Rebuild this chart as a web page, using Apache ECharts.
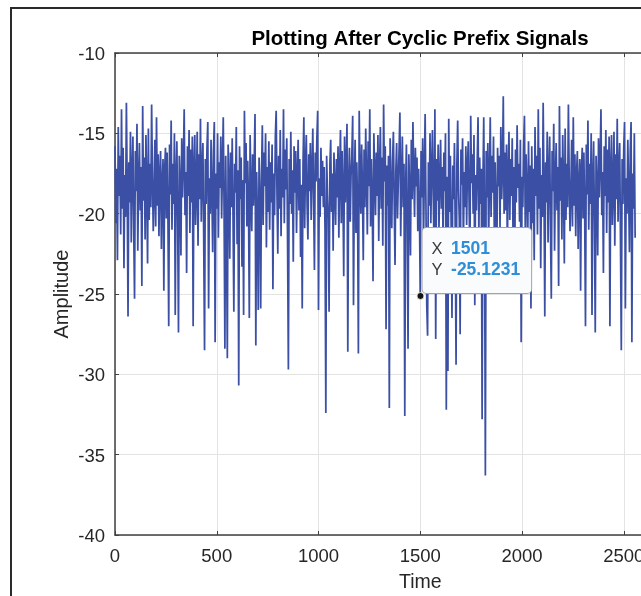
<!DOCTYPE html>
<html>
<head>
<meta charset="utf-8">
<title>Plotting After Cyclic Prefix Signals</title>
<script src="https://cdn.jsdelivr.net/npm/echarts@6/dist/echarts.min.js"></script>
<style>
  html, body { margin: 0; padding: 0; background: #fff; overflow: hidden; }
  #chart { width: 780px; height: 596px; }
</style>
</head>
<body>
<div id="chart"></div>
<script>
// one sample is kept every `sampleStep` samples of the 2560-sample signal
const sampleStep = 4
// amplitude; the last 128 entries repeat the first 128 (cyclic prefix)
const amplitude = [
  -15.8, -20.6, -17.2, -22.9, -14.6, -18.9, -16.4, -21.3, -13.5, -19.7, -15.9, -23.4, -17.6, -20.2, -13.1, -18.4,
  -26.4, -16.8, -19.3, -14.9, -21.8, -17.4, -15.2, -20.9, -25.3, -16.1, -18.6, -14.4, -22.3, -17.9, -15.6, -19.8,
  -17.1, -24.5, -13.3, -19.2, -16.5, -21.6, -15.1, -18.3, -23.1, -14.7, -20.4, -16.9, -19.6, -13.2, -17.8, -21.1,
  -18.7, -15.4, -20.8, -14.0, -19.5, -16.3, -21.4, -17.6, -16.1, -22.2, -18.1, -16.6, -24.8, -17.3, -15.9, -20.3,
  -16.2, -19.9, -27.0, -15.7, -18.8, -14.2, -21.0, -16.9, -19.4, -15.0, -26.3, -17.7, -15.5, -20.6, -27.4, -16.4,
  -18.2, -22.6, -15.3, -19.0, -16.7, -13.5, -20.1, -17.4, -23.7, -15.8, -18.9, -14.8, -21.2, -16.0, -19.3, -15.2,
  -27.0, -17.0, -15.1, -20.7, -18.5, -14.9, -22.0, -16.3, -19.1, -14.1, -20.5, -17.2, -15.6, -21.7, -28.5, -16.6,
  -19.4, -15.9, -14.3, -25.9, -17.8, -20.0, -15.4, -18.6, -22.4, -16.1, -14.3, -28.0, -17.5, -19.7, -15.0, -21.5,
  -16.8, -18.4, -15.2, -20.3, -17.1, -14.0, -19.8, -28.4, -16.4, -21.3, -29.0, -15.7, -18.0, -22.8, -16.2, -19.6,
  -15.3, -20.2, -26.1, -16.9, -18.7, -14.6, -21.9, -17.3, -30.7, -15.8, -19.1, -16.5, -23.3, -17.9, -26.3, -13.6,
  -18.1, -15.6, -20.8, -16.7, -19.2, -26.5, -15.1, -18.9, -21.1, -16.3, -19.5, -17.0, -13.8, -28.2, -17.4, -20.4,
  -26.0, -16.5, -19.0, -25.9, -17.6, -14.5, -20.7, -16.2, -18.3, -15.0, -22.1, -17.1, -19.9, -15.5, -21.0, -16.8,
  -19.3, -15.7, -24.7, -17.5, -20.1, -15.2, -13.6, -18.8, -22.5, -16.4, -19.7, -14.8, -21.4, -17.2, -19.0, -13.5,
  -20.6, -16.0, -18.5, -15.3, -21.8, -29.7, -16.6, -19.4, -14.9, -20.0, -17.3, -23.0, -15.8, -18.7, -16.1, -21.2,
  -17.7, -15.4, -19.8, -16.6, -22.7, -18.2, -25.9, -16.9, -14.0, -20.9, -17.0, -15.1, -19.5, -21.6, -16.3, -18.6,
  -15.6, -20.4, -17.4, -14.7, -19.1, -23.5, -16.2, -18.0, -15.3, -13.6, -26.0, -17.8, -20.2, -15.9, -18.9, -16.7,
  -19.6, -17.1, -21.0, -32.4, -16.4, -18.8, -20.3, -26.1, -16.9, -15.4, -19.9, -17.5, -22.3, -16.2, -18.4, -20.7,
  -16.6, -19.0, -15.8, -21.5, -17.3, -14.8, -20.6, -16.1, -18.7, -23.9, -15.2, -19.3, -17.0, -14.4, -28.6, -18.1,
  -15.9, -20.5, -17.6, -16.3, -13.9, -25.7, -18.2, -15.4, -21.2, -16.8, -19.4, -28.7, -13.6, -17.7, -20.0, -15.7,
  -18.6, -22.9, -16.0, -19.6, -14.7, -17.9, -21.3, -15.5, -18.3, -13.5, -20.8, -16.6, -19.2, -24.2, -15.0, -17.4,
  -20.1, -16.2, -18.9, -15.1, -21.7, -17.2, -14.6, -19.7, -16.5, -22.0, -13.2, -18.0, -15.8, -27.2, -17.0, -19.5,
  -16.4, -32.1, -15.3, -18.5, -20.9, -16.7, -14.9, -19.3, -23.2, -17.4, -15.6, -20.3, -18.1, -16.0, -13.7, -21.4,
  -17.8, -15.2, -19.6, -16.9, -32.6, -18.4, -15.7, -20.5, -28.4, -16.3, -18.8, -22.6, -15.4, -19.1, -14.3, -17.6,
  -20.2, -15.9, -18.3, -16.5, -21.1, -17.2, -19.8, -25.1231, -16.1, -19.0, -15.3, -21.9, -17.5, -13.8, -19.4, -25.7,
  -27.6, -16.8, -19.5, -15.0, -20.6, -17.3, -14.8, -18.9, -22.4, -13.5, -27.8, -16.6, -19.2, -15.7, -21.0, -17.9,
  -15.4, -19.7, -17.1, -21.5, -16.2, -18.6, -15.0, -32.2, -17.7, -29.8, -14.1, -19.9, -16.4, -20.8, -26.5, -17.0,
  -19.1, -15.6, -21.2, -29.4, -16.9, -14.2, -18.5, -20.4, -27.5, -16.0, -18.2, -15.3, -22.1, -17.4, -19.6, -15.8,
  -20.7, -17.0, -15.5, -19.3, -22.8, -13.9, -18.1, -16.3, -20.0, -15.1, -25.7, -17.6, -19.8, -16.7, -14.0, -21.3,
  -16.5, -19.4, -17.2, -32.8, -18.0, -14.0, -20.6, -36.3, -16.1, -19.0, -15.6, -21.8, -17.8, -14.0, -20.2, -16.4,
  -18.7, -15.2, -21.4, -16.8, -19.5, -23.6, -15.9, -18.3, -16.4, -20.9, -14.6, -19.1, -17.3, -12.7, -20.0, -16.2,
  -19.8, -15.7, -22.3, -17.5, -14.9, -20.4, -16.6, -18.9, -15.3, -21.6, -17.1, -24.0, -16.0, -19.3, -14.5, -18.4,
  -16.9, -20.5, -15.4, -28.0, -17.7, -19.6, -15.8, -13.9, -21.0, -16.3, -18.6, -22.2, -15.5, -19.9, -17.0, -25.9,
  // cyclic prefix copy
  -15.8, -20.6, -17.2, -22.9, -14.6, -18.9, -16.4, -21.3, -13.5, -19.7, -15.9, -23.4, -17.6, -20.2, -13.1, -18.4,
  -26.4, -16.8, -19.3, -14.9, -21.8, -17.4, -15.2, -20.9, -25.3, -16.1, -18.6, -14.4, -22.3, -17.9, -15.6, -19.8,
  -17.1, -24.5, -13.3, -19.2, -16.5, -21.6, -15.1, -18.3, -23.1, -14.7, -20.4, -16.9, -19.6, -13.2, -17.8, -21.1,
  -18.7, -15.4, -20.8, -14.0, -19.5, -16.3, -21.4, -17.6, -16.1, -22.2, -18.1, -16.6, -24.8, -17.3, -15.9, -20.3,
  -16.2, -19.9, -27.0, -15.7, -18.8, -14.2, -21.0, -16.9, -19.4, -15.0, -26.3, -17.7, -15.5, -20.6, -27.4, -16.4,
  -18.2, -22.6, -15.3, -19.0, -16.7, -13.5, -20.1, -17.4, -23.7, -15.8, -18.9, -14.8, -21.2, -16.0, -19.3, -15.2,
  -27.0, -17.0, -15.1, -20.7, -18.5, -14.9, -22.0, -16.3, -19.1, -14.1, -20.5, -17.2, -15.6, -21.7, -28.5, -16.6,
  -19.4, -15.9, -14.3, -25.9, -17.8, -20.0, -15.4, -18.6, -22.4, -16.1, -14.3, -28.0, -17.5, -19.7, -15.0, -21.5
]

// data tip shown on the figure
const tipTime = 1501
const tipValue = -25.1231

const xTicks = { min: 0, max: 3000, interval: 500 }
const yTicks = { min: -40, max: -10, interval: 5 }

const font = '"Liberation Sans", Arial, Helvetica, sans-serif'
const axisColor = '#404040'
const gridColor = '#e3e3e3'

const chart = echarts.init(document.getElementById('chart'))

const seriesData = amplitude.map((v, i) => [i * sampleStep, v])

chart.setOption({
  animation: false,
  textStyle: { fontFamily: font },
  title: {
    text: 'Plotting After Cyclic Prefix Signals',
    left: 415,
    textAlign: 'center',
    top: 24,
    textStyle: { fontSize: 20.5, fontWeight: 'bold', color: '#000', fontFamily: font }
  },
  graphic: [{
    type: 'rect',
    shape: { x: 11, y: 8, width: 900, height: 800 },
    style: { fill: 'none', stroke: '#2a2a2a', lineWidth: 2 },
    silent: true
  }],
  grid: { left: 115, top: 53, width: 610.5, height: 482, outerBoundsMode: 'none', containLabel: false },
  xAxis: [{
    type: 'value',
    ...xTicks,
    name: 'Time',
    nameLocation: 'middle',
    nameGap: 38,
    nameTextStyle: { fontSize: 19.5, color: '#262626', fontFamily: font },
    axisLine: { show: true, onZero: false, lineStyle: { color: axisColor, width: 1.5 } },
    axisTick: { show: true, inside: true, length: 4, lineStyle: { color: axisColor } },
    axisLabel: { fontSize: 18.5, color: '#262626', margin: 12, fontFamily: font, formatter: (v) => String(v) },
    splitLine: { show: true, lineStyle: { color: gridColor, width: 1 } }
  }, {
    type: 'value',
    ...xTicks,
    position: 'top',
    axisLine: { show: true, onZero: false, lineStyle: { color: axisColor, width: 1.5 } },
    axisTick: { show: true, inside: true, length: 4, lineStyle: { color: axisColor } },
    axisLabel: { show: false },
    splitLine: { show: false }
  }],
  yAxis: {
    type: 'value',
    ...yTicks,
    name: 'Amplitude',
    nameLocation: 'middle',
    nameGap: 43,
    nameMoveOverlap: false,
    nameRotate: 90,
    nameTextStyle: { fontSize: 20, color: '#262626', fontFamily: font },
    axisLine: { show: true, onZero: false, lineStyle: { color: axisColor, width: 1.5 } },
    axisTick: { show: true, inside: true, length: 4, lineStyle: { color: axisColor } },
    axisLabel: { fontSize: 18.5, color: '#262626', margin: 10, fontFamily: font, verticalAlign: 'top', lineHeight: 4 },
    splitLine: { show: true, lineStyle: { color: gridColor, width: 1 } }
  },
  series: [{
    type: 'line',
    data: seriesData,
    showSymbol: false,
    sampling: null,
    lineStyle: { color: '#3b50a5', width: 1.75 },
    markPoint: {
      symbol: 'circle',
      symbolSize: 7,
      itemStyle: { color: '#151515', borderColor: '#fffbe0', borderWidth: 0.8 },
      label: {
        show: true,
        position: [6, -64],
        align: 'left',
        verticalAlign: 'top',
        backgroundColor: '#f9fbfd',
        borderColor: '#a3a3a3',
        borderWidth: 1,
        borderRadius: 4,
        padding: [11, 11, 12, 9],
        lineHeight: 21,
        formatter: () => `{k|X}{v|${tipTime}}\n{k|Y}{v|${tipValue}}`,
        rich: {
          k: { fontSize: 16.5, color: '#3a3a3a', fontFamily: font, lineHeight: 21, width: 19.5 },
          v: { fontSize: 17.5, color: '#2f8fd6', fontWeight: 'bold', fontFamily: font, lineHeight: 21 }
        }
      },
      data: [{ coord: [tipTime, tipValue] }]
    }
  }]
})
</script>
</body>
</html>
